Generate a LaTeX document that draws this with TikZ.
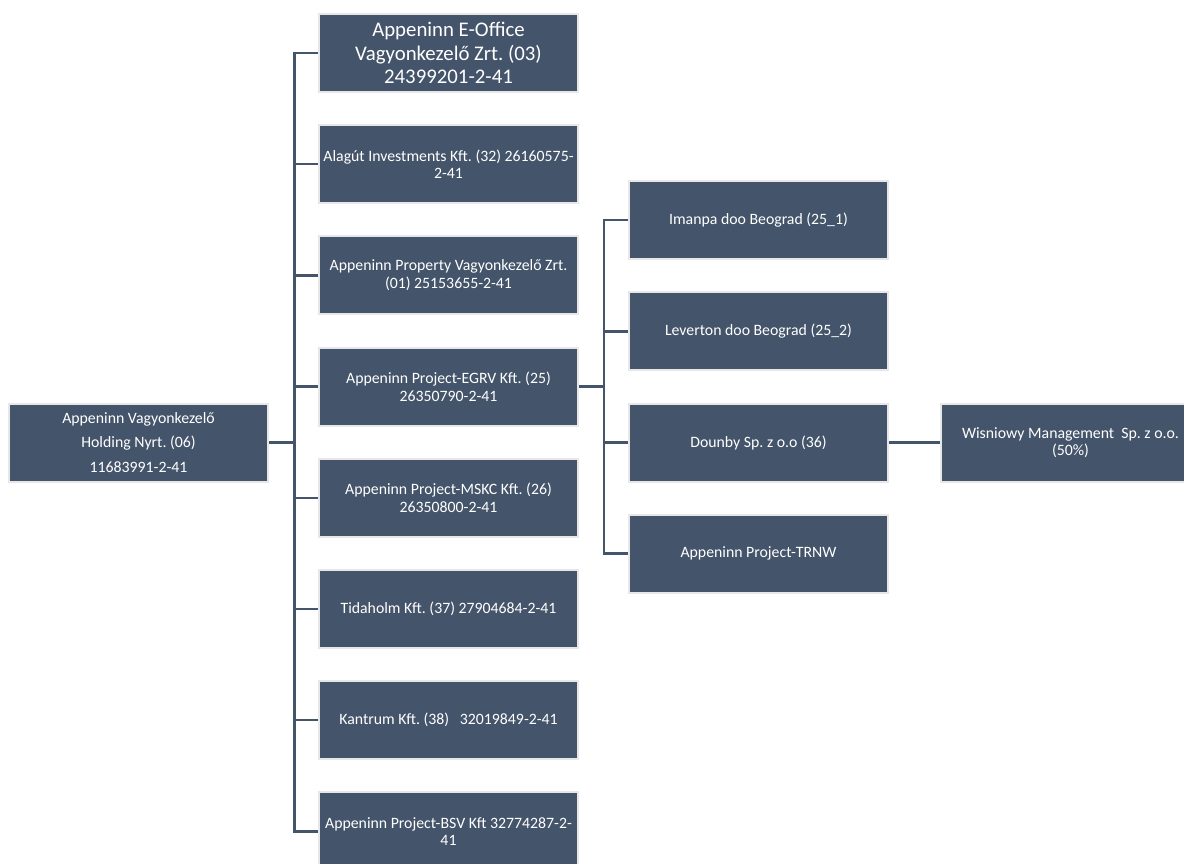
\documentclass[tikz,border=0pt]{standalone}
\usepackage{fontspec}
\setmainfont{Carlito}
\frenchspacing
\usetikzlibrary{positioning}
\definecolor{slate}{RGB}{68,84,106}
\definecolor{rim}{RGB}{231,231,231}

\begin{document}
\begin{tikzpicture}[
    x=1pt, y=-1pt,
    node distance=31.2pt,
    entity/.style = {fill=slate, draw=rim, line width=2pt, text=white, align=center,
        minimum width=259pt, minimum height=78pt, inner sep=1pt,
        font=\fontsize{15.8}{17.6}\selectfont},
    link/.style = {draw=slate, line width=2.5pt}
]
    \useasboundingbox (0,0) rectangle (1184,864);

    \node (holding) [entity, font=\fontsize{15.8}{24.5}\selectfont] at (138.5,442.5) {Appeninn Vagyonkezelő\\Holding Nyrt. (06)\\11683991-2-41};

    % first level
    \node (eoffice) [entity, font=\fontsize{20.8}{23.5}\selectfont] at (448.5,53) {Appeninn E-Office\\Vagyonkezelő Zrt. (03)\\24399201-2-41};
    \node (alagut) [entity, below=of eoffice] {Alagút Investments Kft. (32) 26160575-\\2-41};
    \node (property) [entity, below=of alagut] {Appeninn Property Vagyonkezelő Zrt.\\(01) 25153655-2-41};
    \node (egrv) [entity, below=of property] {Appeninn Project-EGRV Kft. (25)\\26350790-2-41};
    \node (mskc) [entity, below=of egrv] {Appeninn Project-MSKC Kft. (26)\\26350800-2-41};
    \node (tidaholm) [entity, below=of mskc] {Tidaholm Kft. (37) 27904684-2-41};
    \node (kantrum) [entity, below=of tidaholm] {Kantrum Kft. (38)\ \ \ 32019849-2-41};
    \node (bsv) [entity, below=of kantrum] {Appeninn Project-BSV Kft 32774287-2-\\41};

    % second level
    \node (dounby) [entity] at (758.5,442.5) {Dounby Sp. z o.o (36)};
    \node (leverton) [entity, above=of dounby] {Leverton doo Beograd (25\_2)};
    \node (imanpa) [entity, above=of leverton] {Imanpa doo Beograd (25\_1)};
    \node (trnw) [entity, below=of dounby] {Appeninn Project-TRNW};
    \node (wisniowy) [entity, right=51pt of dounby] {Wisniowy Management\ \ Sp. z o.o.\\(50\%)};

    \foreach \child in {eoffice, alagut, property, egrv, mskc, tidaholm, kantrum, bsv}
        \draw [link] (holding.east) -- ++(25.5,0) |- (\child.west);
    \foreach \child in {imanpa, leverton, dounby, trnw}
        \draw [link] (egrv.east) -- ++(25,0) |- (\child.west);
    \draw [link] (dounby) -- (wisniowy);
\end{tikzpicture}
\end{document}
